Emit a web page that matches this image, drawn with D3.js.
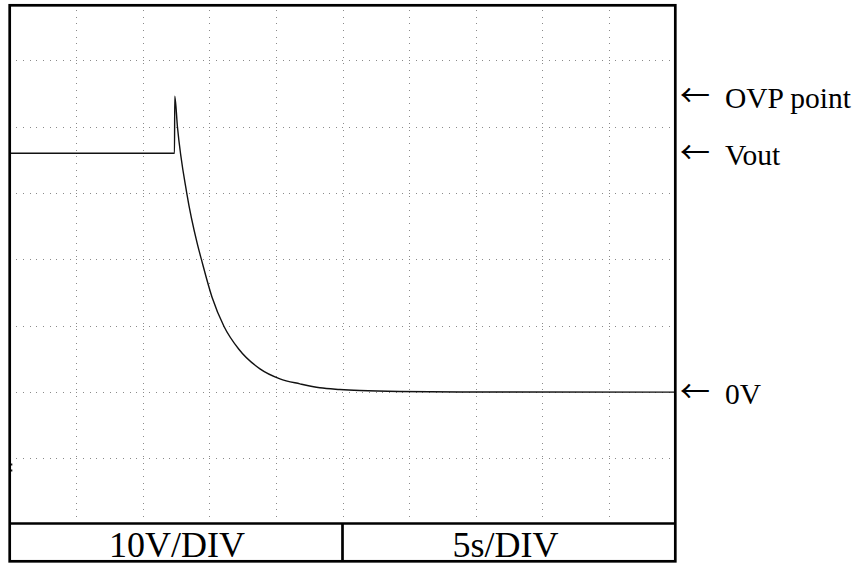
<!DOCTYPE html>
<html>
<head>
<meta charset="utf-8">
<script src="https://cdn.jsdelivr.net/npm/d3@7"></script>
<style>
  html, body { margin: 0; padding: 0; background: #fff; }
  svg { display: block; }
  text { font-family: "Liberation Serif", "Times New Roman", serif; fill: #000; }
  text.arrow { font-family: "Noto Sans CJK JP", "DejaVu Sans", sans-serif; }
</style>
</head>
<body>
<svg id="chart" width="862" height="564"></svg>
<script>
// ---- data ----
const timeS  = [0, 12.3, 12.38, 12.4, 12.6, 13.3, 14.1, 14.4, 15.2, 16.1, 17.2, 18.8, 20.3, 21.8, 23.3, 24.8, 26.3, 29.3, 33.8, 50];
const voltsV = [36, 36, 36, 44.6, 40.0, 30.0, 22.3, 20.0, 14.3, 9.9, 6.5, 3.5, 2.0, 1.25, 0.65, 0.4, 0.24, 0.09, 0.03, 0];
const xGridTicks = [5, 10, 15, 20, 25, 30, 35, 40, 45];
const yGridTicks = [-10, 0, 10, 20, 30, 40, 50];
const markerLabels = ["OVP point", "Vout", "0V"];
const markerValues = [44.6, 36, 0];
const scaleLabels = ["10V/DIV", "5s/DIV"];

// ---- layout ----
const pLeft = 9.7, pRight = 675.3, pTop = 5.3, plotBottom = 523.5, tableBottom = 561.3;
const svg = d3.select("#chart");

const x = d3.scaleLinear().domain([0, 50]).range([pLeft, pRight]);
const y = d3.scaleLinear().domain([-19.8, 58.3]).range([plotBottom, pTop]);

const pxPerDiv = x(5) - x(0);
const dotStep = pxPerDiv / 10;

// grid via axes
const gx = svg.append("g")
  .attr("transform", `translate(0,${plotBottom})`)
  .call(d3.axisBottom(x).tickValues(xGridTicks).tickSize(-(plotBottom - pTop)).tickFormat(""));
gx.select(".domain").remove();
gx.selectAll(".tick line")
  .attr("stroke", "#8a8a8a").attr("stroke-width", 1)
  .attr("stroke-dasharray", `1,${dotStep - 1}`)
  .attr("shape-rendering", "crispEdges");

const gy = svg.append("g")
  .attr("transform", `translate(${pLeft},0)`)
  .call(d3.axisLeft(y).tickValues(yGridTicks).tickSize(-(pRight - pLeft)).tickFormat(""));
gy.select(".domain").remove();
gy.selectAll(".tick line")
  .attr("stroke", "#8a8a8a").attr("stroke-width", 1)
  .attr("stroke-dasharray", `1,${dotStep - 1}`)
  .attr("shape-rendering", "crispEdges");

// trace
const line = d3.line()
  .x((d, i) => x(timeS[i]))
  .y(d => y(d))
  .curve(d3.curveMonotoneX);
svg.append("path")
  .attr("d", line(voltsV))
  .attr("fill", "none")
  .attr("stroke", "#111")
  .attr("stroke-width", 1.4)
  .attr("stroke-linejoin", "round");

// small ground marker on the left edge
svg.append("line")
  .attr("x1", pLeft + 2).attr("x2", pLeft + 2)
  .attr("y1", y(-10) + 5).attr("y2", y(-10) + 14)
  .attr("stroke", "#000").attr("stroke-width", 1.2)
  .attr("stroke-dasharray", "2,4");

// frame + label table
const frame = svg.append("g").attr("fill", "none").attr("stroke", "#000").attr("stroke-width", 2.7);
frame.append("rect").attr("x", pLeft).attr("y", pTop).attr("width", pRight - pLeft).attr("height", tableBottom - pTop);
frame.append("line").attr("x1", pLeft).attr("x2", pRight).attr("y1", plotBottom).attr("y2", plotBottom);
const mid = x(25);
frame.append("line").attr("x1", mid).attr("x2", mid).attr("y1", plotBottom).attr("y2", tableBottom);

// scale labels
const cells = [[pLeft, mid], [mid, pRight]];
const cellShift = [1, -3.5];
svg.selectAll("text.scale").data(scaleLabels).enter().append("text")
  .attr("class", "scale")
  .attr("x", (d, i) => (cells[i][0] + cells[i][1]) / 2 + cellShift[i])
  .attr("y", 557)
  .attr("text-anchor", "middle")
  .attr("font-size", 36)
  .text(d => d);

// right-side markers
const mk = svg.selectAll("g.marker").data(markerLabels).enter().append("g").attr("class", "marker");
mk.append("text")
  .attr("class", "arrow")
  .attr("x", 680)
  .attr("y", (d, i) => y(markerValues[i]) + 10)
  .attr("font-size", 30)
  .text("\u2190");
mk.append("text")
  .attr("x", 725)
  .attr("y", (d, i) => y(markerValues[i]) + 12)
  .attr("font-size", 29.5)
  .text(d => d);
</script>
</body>
</html>
